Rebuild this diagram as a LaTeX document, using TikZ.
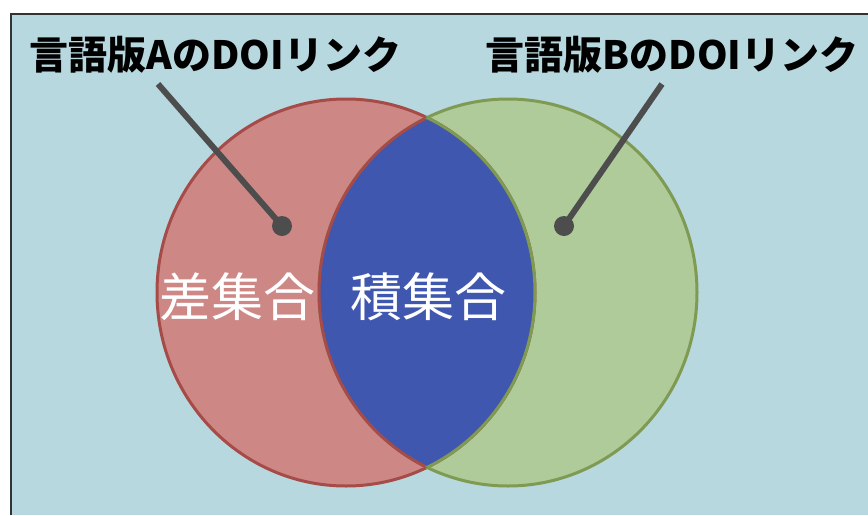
\documentclass[tikz,border=0pt]{standalone}
\usepackage{fontspec}
\setmainfont{Noto Sans CJK JP}
\definecolor{bgblue}{HTML}{B7D8DF}
\definecolor{redfill}{HTML}{CD8886}
\definecolor{redline}{HTML}{A64B48}
\definecolor{greenfill}{HTML}{AFCB99}
\definecolor{greenline}{HTML}{7F9A52}
\definecolor{interblue}{HTML}{3F57AE}
\definecolor{pin}{HTML}{4D4D4D}
\definecolor{frame}{HTML}{333333}
\tikzset{
  setlabel/.style={text=white, font=\fontsize{52}{58}\selectfont, inner sep=0pt},
  toplabel/.style={text=black, font=\fontsize{39}{44}\selectfont\bfseries, inner sep=0pt},
  pinline/.style={draw=pin, line width=6pt},
  pindot/.style={circle, fill=pin, minimum size=20pt, inner sep=0pt},
  setshape/.style={x radius=189pt, y radius=193.5pt},
}
\begin{document}
\begin{tikzpicture}[x=1pt,y=-1pt]
\useasboundingbox (0,0) rectangle (868,515);
\fill[white] (0,0) rectangle (868,515);
\fill[bgblue] (11,14) rectangle (868,515);
\draw[frame, line width=2pt] (11,515) -- (11,14) -- (868,14);
\coordinate (L) at (346,292.5);
\coordinate (R) at (508,292.5);
% fills
\fill[redfill] (L) ellipse [setshape];
\fill[greenfill] (R) ellipse [setshape];
\draw[redline, line width=3pt] (L) ellipse [setshape];
\draw[greenline, line width=3pt] (R) ellipse [setshape];
\begin{scope}
  \clip (L) ellipse [setshape];
  \fill[interblue] (R) ellipse [setshape];
  \draw[redline, line width=3pt] (R) ellipse [setshape];
\end{scope}
\begin{scope}
  \clip (R) ellipse [setshape];
  \draw[greenline, line width=3pt] (L) ellipse [setshape];
\end{scope}
% labels
\node[toplabel] (la) at (215.5,55) {言語版AのDOIリンク};
\node[toplabel] (lb) at (672,55) {言語版BのDOIリンク};
\coordinate (sa) at (158,84);
\coordinate (sb) at (662,84);
\node[pindot] (da) at (282,226) {};
\node[pindot] (db) at (564,226) {};
\draw[pinline] (sa) -- (da.center);
\draw[pinline] (sb) -- (db.center);
\node[setlabel] (diff) at (237.5,297) {差集合};
\node[setlabel] (inter) at (428,297) {積集合};
\end{tikzpicture}
\end{document}
